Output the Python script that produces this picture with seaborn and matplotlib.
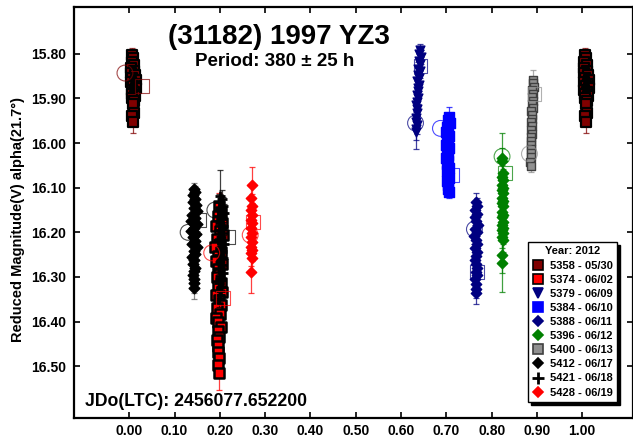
import matplotlib
matplotlib.use('Agg')
import pandas as pd
import matplotlib.pyplot as plt
from matplotlib.lines import Line2D
import seaborn as sns

# Sessions (legend labels)
sessions = ['5358 - 05/30', '5374 - 06/02', '5379 - 06/09', '5384 - 06/10', '5388 - 06/11',
            '5396 - 06/12', '5400 - 06/13', '5412 - 06/17', '5421 - 06/18', '5428 - 06/19']

# Phase / reduced magnitude / error per session
ph_5358 = [0.006, 0.008, 0.005, 0.010, 0.004, 0.011, 0.003, 0.013, 0.006, 0.015, 0.004, 0.012,
           0.008, 0.014, 0.005, 0.011, 0.007, 0.013, 0.006, 0.010, 0.008, 0.011, 0.007, 0.009]
mag_5358 = [15.803, 15.810, 15.818, 15.825, 15.832, 15.838, 15.843, 15.848, 15.853, 15.858, 15.862, 15.867,
            15.871, 15.876, 15.880, 15.885, 15.890, 15.895, 15.900, 15.906, 15.912, 15.932, 15.940, 15.952]
err_5358 = [0.017, 0.015, 0.015, 0.016, 0.015, 0.015, 0.016, 0.015, 0.016, 0.015, 0.015, 0.016,
            0.015, 0.016, 0.015, 0.016, 0.015, 0.016, 0.015, 0.016, 0.016, 0.020, 0.022, 0.026]

ph_5374 = [0.199, 0.203, 0.196, 0.204, 0.192, 0.201, 0.206, 0.194, 0.200, 0.190, 0.203, 0.197,
           0.191, 0.205, 0.195, 0.199, 0.193, 0.202, 0.196, 0.204, 0.191, 0.198, 0.203, 0.194,
           0.200, 0.192, 0.197, 0.202, 0.195, 0.199, 0.193, 0.197, 0.195, 0.199, 0.196, 0.198]
mag_5374 = [16.142, 16.155, 16.163, 16.178, 16.186, 16.197, 16.205, 16.214, 16.226, 16.233, 16.245, 16.252,
            16.264, 16.271, 16.283, 16.292, 16.301, 16.313, 16.320, 16.334, 16.341, 16.352, 16.363, 16.370,
            16.384, 16.392, 16.401, 16.413, 16.422, 16.434, 16.441, 16.455, 16.468, 16.482, 16.497, 16.516]
err_5374 = [0.030, 0.020, 0.020, 0.020, 0.020, 0.020, 0.020, 0.020, 0.020, 0.020, 0.020, 0.020,
            0.020, 0.020, 0.020, 0.020, 0.020, 0.020, 0.020, 0.020, 0.020, 0.020, 0.020, 0.020,
            0.020, 0.020, 0.020, 0.020, 0.020, 0.020, 0.020, 0.022, 0.025, 0.028, 0.030, 0.037]

ph_5379 = [0.642, 0.640, 0.643, 0.639, 0.641, 0.638, 0.642, 0.637, 0.640, 0.636, 0.639, 0.637,
           0.638, 0.635, 0.637, 0.636, 0.634, 0.636, 0.635, 0.634, 0.632, 0.635, 0.633, 0.634]
mag_5379 = [15.792, 15.801, 15.807, 15.816, 15.822, 15.833, 15.838, 15.847, 15.855, 15.860, 15.869, 15.877,
            15.883, 15.893, 15.898, 15.907, 15.915, 15.924, 15.933, 15.944, 15.952, 15.960, 15.968, 15.976]
err_5379 = [0.014, 0.015, 0.015, 0.015, 0.015, 0.015, 0.015, 0.015, 0.015, 0.015, 0.015, 0.015,
            0.015, 0.015, 0.015, 0.015, 0.015, 0.015, 0.015, 0.016, 0.018, 0.020, 0.025, 0.038]

ph_5384 = [0.705, 0.703, 0.707, 0.701, 0.704, 0.700, 0.706, 0.702, 0.704, 0.699, 0.705, 0.701,
           0.703, 0.700, 0.704, 0.702, 0.706, 0.701, 0.703, 0.705, 0.702, 0.704, 0.703, 0.705]
mag_5384 = [15.942, 15.949, 15.955, 15.963, 15.970, 15.976, 15.984, 15.990, 15.997, 16.005, 16.012, 16.018,
            16.026, 16.033, 16.040, 16.047, 16.055, 16.062, 16.070, 16.078, 16.086, 16.094, 16.103, 16.110]
err_5384 = [0.023, 0.016, 0.015, 0.015, 0.015, 0.015, 0.015, 0.015, 0.015, 0.015, 0.015, 0.015,
            0.015, 0.015, 0.015, 0.015, 0.015, 0.015, 0.015, 0.015, 0.015, 0.014, 0.013, 0.013]

ph_5388 = [0.765, 0.767, 0.764, 0.768, 0.763, 0.766, 0.769, 0.764, 0.767, 0.762, 0.766, 0.768,
           0.764, 0.767, 0.765, 0.763, 0.766, 0.768, 0.765, 0.767, 0.764, 0.766, 0.765, 0.766]
mag_5388 = [16.132, 16.140, 16.149, 16.158, 16.166, 16.175, 16.184, 16.192, 16.200, 16.209, 16.217, 16.226,
            16.235, 16.243, 16.252, 16.261, 16.270, 16.279, 16.288, 16.296, 16.305, 16.315, 16.326, 16.336]
err_5388 = [0.020, 0.018, 0.018, 0.018, 0.018, 0.018, 0.018, 0.018, 0.018, 0.018, 0.018, 0.018,
            0.018, 0.018, 0.018, 0.018, 0.018, 0.018, 0.018, 0.018, 0.018, 0.018, 0.020, 0.024]

ph_5396 = [0.823, 0.822, 0.825, 0.823, 0.824, 0.822, 0.825, 0.823, 0.824, 0.822, 0.825, 0.823, 0.824,
           0.822, 0.826, 0.823, 0.824, 0.822, 0.825, 0.823, 0.824, 0.823, 0.824, 0.823, 0.822]
mag_5396 = [16.034, 16.040, 16.067, 16.075, 16.083, 16.094, 16.100, 16.105, 16.112, 16.124, 16.130, 16.135,
            16.142, 16.154, 16.160, 16.165, 16.176, 16.183, 16.190, 16.195, 16.202, 16.210, 16.217, 16.251, 16.269]
err_5396 = [0.056, 0.030, 0.025, 0.025, 0.025, 0.025, 0.025, 0.025, 0.025, 0.025, 0.025, 0.025, 0.025,
            0.025, 0.025, 0.025, 0.025, 0.025, 0.025, 0.025, 0.025, 0.025, 0.028, 0.040, 0.064]

ph_5400 = [0.892, 0.891, 0.893, 0.890, 0.892, 0.890, 0.891, 0.889, 0.891, 0.888, 0.890, 0.889,
           0.888, 0.890, 0.887, 0.889, 0.887, 0.888, 0.886, 0.888, 0.886, 0.887, 0.885, 0.886]
mag_5400 = [15.858, 15.866, 15.874, 15.882, 15.889, 15.897, 15.905, 15.913, 15.921, 15.929, 15.937, 15.945,
            15.953, 15.962, 15.970, 15.979, 15.987, 15.996, 16.005, 16.014, 16.023, 16.032, 16.042, 16.052]
err_5400 = [0.021, 0.015, 0.015, 0.015, 0.015, 0.015, 0.015, 0.015, 0.015, 0.015, 0.015, 0.015,
            0.015, 0.015, 0.015, 0.015, 0.015, 0.015, 0.015, 0.015, 0.014, 0.013, 0.012, 0.012]

ph_5412 = [0.143, 0.145, 0.141, 0.146, 0.140, 0.147, 0.142, 0.149, 0.139, 0.146, 0.137, 0.150, 0.143, 0.136, 0.148,
           0.141, 0.145, 0.138, 0.149, 0.142, 0.146, 0.139, 0.144, 0.141, 0.146, 0.143, 0.140, 0.144, 0.142, 0.143]
mag_5412 = [16.102, 16.110, 16.117, 16.125, 16.131, 16.139, 16.146, 16.153, 16.160, 16.168, 16.175, 16.182,
            16.190, 16.197, 16.204, 16.211, 16.219, 16.226, 16.233, 16.241, 16.248, 16.256, 16.263, 16.271,
            16.279, 16.287, 16.295, 16.304, 16.314, 16.324]
err_5412 = [0.013, 0.015, 0.015, 0.015, 0.015, 0.015, 0.015, 0.015, 0.015, 0.015, 0.015, 0.015, 0.015, 0.015, 0.015,
            0.015, 0.015, 0.015, 0.015, 0.015, 0.015, 0.015, 0.015, 0.015, 0.015, 0.016, 0.018, 0.020, 0.022, 0.026]

ph_5421 = [0.200, 0.204, 0.198, 0.207, 0.202, 0.209, 0.196, 0.205, 0.201, 0.208, 0.199, 0.206, 0.203, 0.197, 0.209,
           0.202, 0.205, 0.199, 0.207, 0.201, 0.204, 0.198, 0.206, 0.200, 0.203, 0.199, 0.202, 0.200, 0.201, 0.199]
mag_5421 = [16.118, 16.125, 16.133, 16.140, 16.148, 16.156, 16.163, 16.171, 16.179, 16.186, 16.194, 16.202,
            16.210, 16.218, 16.226, 16.234, 16.242, 16.250, 16.258, 16.266, 16.274, 16.282, 16.290, 16.298,
            16.306, 16.314, 16.322, 16.331, 16.340, 16.348]
err_5421 = [0.058, 0.020, 0.020, 0.020, 0.020, 0.020, 0.020, 0.020, 0.020, 0.020, 0.020, 0.020, 0.020, 0.020, 0.020,
            0.020, 0.020, 0.020, 0.020, 0.020, 0.020, 0.020, 0.020, 0.020, 0.020, 0.020, 0.020, 0.020, 0.020, 0.020]

ph_5428 = [0.270, 0.269, 0.271, 0.268, 0.270, 0.269, 0.271, 0.268, 0.270, 0.269, 0.271, 0.268, 0.270, 0.269, 0.270, 0.269]
mag_5428 = [16.094, 16.124, 16.140, 16.150, 16.161, 16.172, 16.180, 16.191, 16.202, 16.211, 16.221, 16.232,
            16.240, 16.247, 16.258, 16.288]
err_5428 = [0.040, 0.030, 0.025, 0.025, 0.025, 0.025, 0.025, 0.025, 0.025, 0.025, 0.025, 0.025, 0.025, 0.028,
            0.030, 0.049]

# First (open circle) and last (open square) points of each session
first_ph = [-0.0095, 0.182, 0.632, 0.687, 0.762, 0.823, 0.8835, 0.130, 0.189, 0.267]
first_mag = [15.843, 16.246, 15.955, 15.967, 16.193, 16.030, 16.024, 16.200, 16.150, 16.206]
last_ph = [0.029, 0.207, 0.643, 0.713, 0.768, 0.830, 0.8946, 0.153, 0.219, 0.273]
last_mag = [15.872, 16.347, 15.828, 16.071, 16.288, 16.067, 15.890, 16.172, 16.211, 16.176]

phases = [ph_5358, ph_5374, ph_5379, ph_5384, ph_5388, ph_5396, ph_5400, ph_5412, ph_5421, ph_5428]
mags = [mag_5358, mag_5374, mag_5379, mag_5384, mag_5388, mag_5396, mag_5400, mag_5412, mag_5421, mag_5428]
errs = [err_5358, err_5374, err_5379, err_5384, err_5388, err_5396, err_5400, err_5412, err_5421, err_5428]

# Styles
face = ['#800000', '#ff0000', '#000080', '#0000ff', '#000080', '#008000', '#909090', '#000000', '#000000', '#ff0000']
edge = ['#000000', '#000000', '#000080', '#0000ff', '#000080', '#008000', '#404040', '#000000', '#000000', '#ff0000']
mark = ['s', 's', 'v', 's', 'D', 'D', 's', 'D', '+', 'D']
msize = [48, 50, 40, 42, 28, 28, 40, 30, 55, 28]
ewid = [1.6, 1.8, 1.0, 1.0, 1.0, 1.0, 1.0, 1.0, 2.0, 1.0]

tabs = []
for s, p, m, e in zip(sessions, phases, mags, errs):
    tabs.append(pd.DataFrame({'session': s, 'phase': p, 'mag': m, 'err': e}))
df = pd.concat(tabs, ignore_index=True)
# the first session repeats one cycle later
wrap = df[df['session'] == sessions[0]].copy()
wrap['phase'] = wrap['phase'] + 1.0
df = pd.concat([df, wrap], ignore_index=True)

sns.set_style('ticks')
plt.rcParams['font.family'] = ['Liberation Sans', 'DejaVu Sans']
plt.rcParams['font.weight'] = 'bold'
plt.rcParams['text.color'] = 'black'
plt.rcParams['axes.labelcolor'] = 'black'
plt.rcParams['xtick.color'] = 'black'
plt.rcParams['ytick.color'] = 'black'

fig = plt.figure(figsize=(6.33, 4.41), dpi=100)
ax = fig.add_axes([74 / 633, 1 - 418 / 441, (632.5 - 74) / 633, (418 - 7) / 441])

for i, s in enumerate(sessions):
    d = df[df['session'] == s]
    ecol = '#606060' if s.startswith('5412') else face[i]
    ax.errorbar(d['phase'], d['mag'], yerr=d['err'], fmt='none', ecolor=ecol, alpha=0.75,
                elinewidth=0.9, capsize=2.3, capthick=0.9, zorder=2 + i)
    if mark[i] == '+':
        sns.scatterplot(x=d['phase'], y=d['mag'], marker='+', color=face[i], s=msize[i],
                        linewidth=ewid[i], ax=ax, zorder=2.5 + i, legend=False)
    else:
        sns.scatterplot(x=d['phase'], y=d['mag'], marker=mark[i], color=face[i], edgecolor=edge[i],
                        s=msize[i], linewidth=ewid[i], ax=ax, zorder=2.5 + i, legend=False)
    ax.scatter(first_ph[i], first_mag[i], s=130, marker='o', facecolors='none',
               edgecolors=face[i], linewidths=0.8, alpha=0.7, zorder=20)
    ax.scatter(last_ph[i], last_mag[i], s=100, marker='s', facecolors='none',
               edgecolors=face[i], linewidths=0.8, alpha=0.7, zorder=20)

ax.set_xlim(-0.122, 1.111)
ax.set_ylim(16.616, 15.695)
xt = [k / 10 for k in range(11)]
ax.set_xticks(xt)
ax.set_xticklabels(['%.2f' % v for v in xt])
yt = [15.8 + k / 10 for k in range(8)]
ax.set_yticks(yt)
ax.set_yticklabels(['%.2f' % v for v in yt])
ax.tick_params(direction='in', length=4, width=1.2, top=True, right=True,
               labelsize=10, pad=4, colors='black')
ax.tick_params(axis='y', pad=6)
for lab in ax.get_xticklabels() + ax.get_yticklabels():
    lab.set_fontweight('bold')
for sp in ax.spines.values():
    sp.set_linewidth(1.6)
    sp.set_color('black')
ax.set_xlabel('')
ax.set_ylabel('')

fig.text(18 / 633, 1 - 220 / 441, 'Reduced Magnitude(V) alpha(21.7°)', rotation=90,
         ha='center', va='center', fontsize=10.5, fontweight='bold')
fig.text(279 / 633, 1 - 37 / 441, '(31182) 1997 YZ3', ha='center', va='center',
         fontsize=20, fontweight='bold')
fig.text(275 / 633, 1 - 62 / 441, 'Period: 380 ± 25 h', ha='center', va='center',
         fontsize=13.5, fontweight='bold')
fig.text(85 / 633, 1 - 402 / 441, 'JDo(LTC): 2456077.652200', ha='left', va='center',
         fontsize=12.7, fontweight='bold')

handles = []
for i, s in enumerate(sessions):
    if mark[i] == '+':
        h = Line2D([], [], linestyle='none', marker='+', color='black', markersize=8, markeredgewidth=2)
    else:
        h = Line2D([], [], linestyle='none', marker=mark[i], markerfacecolor=face[i],
                   markeredgecolor=edge[i], markeredgewidth=1.2, markersize=6.5 if mark[i] != 'D' else 5)
    handles.append(h)
leg = ax.legend(handles, sessions, title='Year: 2012', loc='lower right',
                bbox_to_anchor=(0.972, 0.039), borderaxespad=0, fontsize=8,
                title_fontproperties={'weight': 'bold', 'size': 8},
                frameon=True, fancybox=False, framealpha=1, edgecolor='black',
                shadow={'color': 'black', 'alpha': 1}, labelspacing=0.37,
                handlelength=1.0, handletextpad=0.5, borderpad=0.4)
leg.get_frame().set_linewidth(1.0)
for t in leg.get_texts():
    t.set_fontweight('bold')
leg.set_zorder(30)

fig.savefig('out.png', dpi=100)
